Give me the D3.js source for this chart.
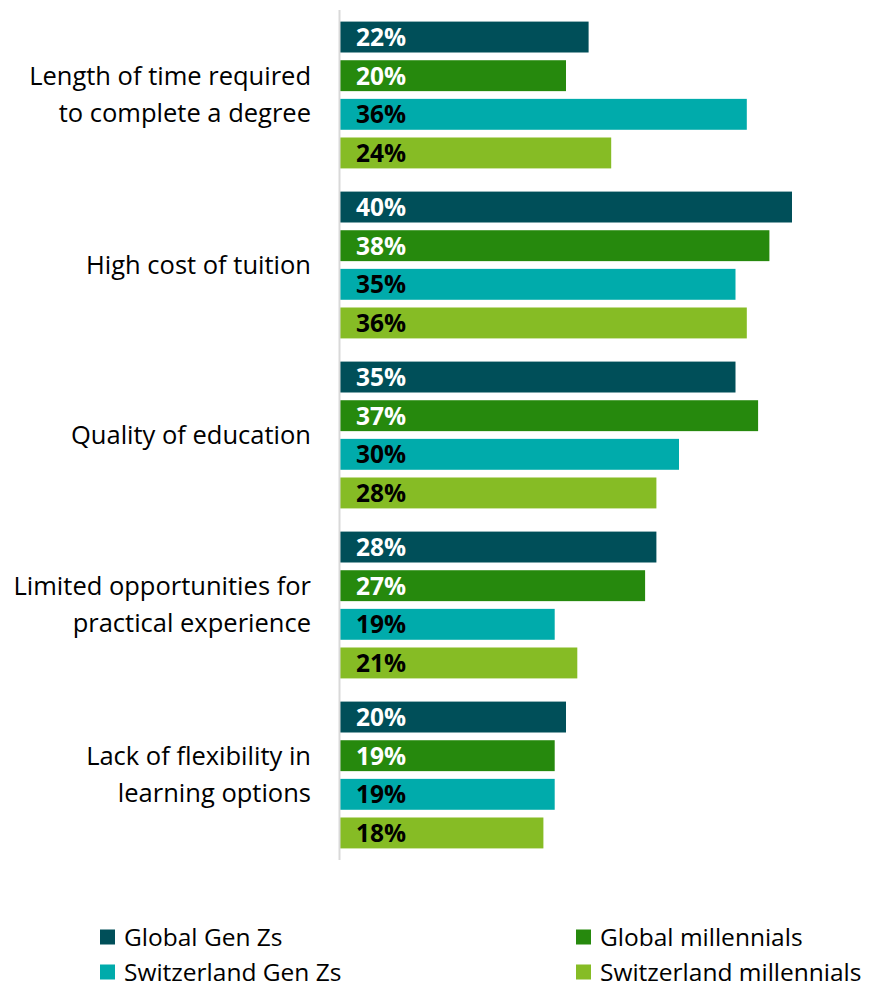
<!DOCTYPE html>
<html>
<head>
<meta charset="utf-8">
<script src="https://cdn.jsdelivr.net/npm/d3@7"></script>
<style>
  html, body { margin: 0; padding: 0; background: #fff; }
  svg { display: block; }
  text { font-family: "Open Sans", Lato, sans-serif; }
</style>
</head>
<body>
<script>
// Barriers to higher education, share of respondents (%)
const categories = [
  ["Length of time required", "to complete a degree"],
  ["High cost of tuition"],
  ["Quality of education"],
  ["Limited opportunities for", "practical experience"],
  ["Lack of flexibility in", "learning options"]
];
const seriesNames = ["Global Gen Zs", "Global millennials", "Switzerland Gen Zs", "Switzerland millennials"];
const globalGenZ       = [22, 40, 35, 28, 20];
const globalMillennial = [20, 38, 37, 27, 19];
const swissGenZ        = [36, 35, 30, 19, 19];
const swissMillennial  = [24, 36, 28, 21, 18];
const seriesValues = [globalGenZ, globalMillennial, swissGenZ, swissMillennial];

const colors = ["#004F59", "#26890D", "#00ABAB", "#86BC25"];
const labelColors = ["#ffffff", "#ffffff", "#000000", "#000000"];

const W = 876, H = 989;
const svg = d3.select("body").append("svg").attr("width", W).attr("height", H);

const x = d3.scaleLinear().domain([0, 40]).range([340, 792]);
const y0 = d3.scaleBand().domain(d3.range(categories.length)).range([10, 860]);
const y1 = d3.scaleBand().domain(d3.range(seriesNames.length))
  .range([0, y0.bandwidth()]).paddingInner(0.2).paddingOuter(0.3);

const groups = svg.append("g").selectAll("g")
  .data(categories)
  .join("g")
  .attr("transform", (d, i) => `translate(0,${y0(i)})`);

groups.each(function(cat, ci) {
  const g = d3.select(this);
  seriesValues.forEach((vals, si) => {
    const v = vals[ci];
    g.append("rect")
      .attr("x", x(0))
      .attr("y", y1(si))
      .attr("width", x(v) - x(0))
      .attr("height", y1.bandwidth())
      .attr("fill", colors[si]);
    g.append("text")
      .attr("x", x(0) + 16)
      .attr("y", y1(si) + y1.bandwidth() / 2)
      .attr("dy", "0.36em")
      .attr("fill", labelColors[si])
      .attr("font-size", 24.5)
      .attr("font-weight", 700)
      .text(v + "%");
  });

  // category label, right aligned, vertically centred on the group
  const lh = 37;
  const n = cat.length;
  const t = g.append("text")
    .attr("text-anchor", "end")
    .attr("fill", "#000")
    .attr("font-size", 25.5);
  cat.forEach((line, li) => {
    t.append("tspan")
      .attr("x", 311)
      .attr("y", y0.bandwidth() / 2 + (li - (n - 1) / 2) * lh)
      .attr("dy", "0.35em")
      .text(line);
  });
});

// vertical axis line
svg.append("line")
  .attr("x1", 339.5).attr("x2", 339.5)
  .attr("y1", 10).attr("y2", 860)
  .attr("stroke", "#d9d9d9").attr("stroke-width", 2);

// legend
const legendPos = [[100, 937], [576, 937], [100, 972], [576, 972]];
const legend = svg.append("g").selectAll("g")
  .data(seriesNames)
  .join("g")
  .attr("transform", (d, i) => `translate(${legendPos[i][0]},${legendPos[i][1]})`);
legend.append("rect")
  .attr("x", 0).attr("y", -7.5)
  .attr("width", 15).attr("height", 15)
  .attr("fill", (d, i) => colors[i]);
legend.append("text")
  .attr("x", 24).attr("y", 0).attr("dy", "0.35em")
  .attr("font-size", 24.5)
  .attr("fill", "#000")
  .text(d => d);
</script>
</body>
</html>
